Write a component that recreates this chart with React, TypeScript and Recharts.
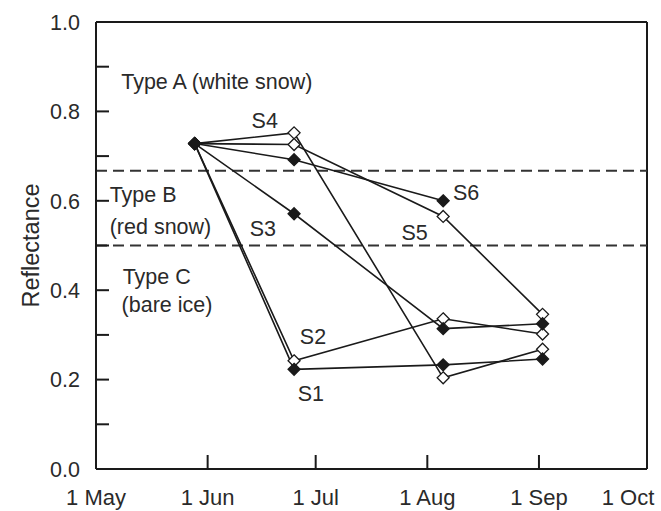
import React from 'react';
import { LineChart, Line, XAxis, YAxis, ReferenceLine, ReferenceDot, Label } from 'recharts';

// days since 1 May
const surveyDays = [27.4, 55, 96.4, 124];
const monthTicks = [0, 31, 61, 92, 123, 153];
const monthLabels = ['1 May', '1 Jun', '1 Jul', '1 Aug', '1 Sep', '1 Oct'];
const yTicks = [0, 0.1, 0.2, 0.3, 0.4, 0.5, 0.6, 0.7, 0.8, 0.9, 1.0];

const s1 = [0.728, 0.223, 0.233, 0.246];
const s2 = [0.728, 0.242, 0.336, 0.302];
const s3 = [0.728, 0.571, 0.314, 0.325];
const s4 = [0.728, 0.752, 0.204, 0.268];
const s5 = [0.728, 0.726, 0.565, 0.346];
const s6 = [0.728, 0.692, 0.6];

const snowTypeBounds = [0.667, 0.5];

const typeLabels = [
  { text: 'Type A (white snow)', day: 7.0, value: 0.867 },
  { text: 'Type B', day: 3.8, value: 0.614 },
  { text: '(red snow)', day: 3.8, value: 0.543 },
  { text: 'Type C', day: 7.4, value: 0.431 },
  { text: '(bare ice)', day: 7.1, value: 0.367 },
];
const siteLabels = [
  { text: 'S1', day: 56.0, value: 0.168 },
  { text: 'S2', day: 56.6, value: 0.296 },
  { text: 'S3', day: 42.7, value: 0.537 },
  { text: 'S4', day: 43.2, value: 0.779 },
  { text: 'S5', day: 84.8, value: 0.529 },
  { text: 'S6', day: 99.1, value: 0.619 },
];

const FONT = '"Liberation Sans", Arial, Helvetica, sans-serif';
const INK = '#1a1a1a';
const TEXT = '#2a2a2a';

const toSeries = (vals: number[]) => vals.map((v, i) => ({ day: surveyDays[i], value: v }));

const makeDot = (filled: boolean) => (props: any) => {
  const { cx, cy, index } = props;
  if (cx == null || cy == null) return <g key={`d${index}`} />;
  const r = 6;
  return (
    <path
      key={`d${index}`}
      d={`M${cx},${cy - r}L${cx + r},${cy}L${cx},${cy + r}L${cx - r},${cy}Z`}
      fill={filled ? INK : '#fff'}
      stroke={INK}
      strokeWidth={1.3}
    />
  );
};

const YTick = (props: any) => {
  const { x, y, payload } = props;
  const v = payload.value as number;
  const major = Math.round(v * 10) % 2 === 0;
  return (
    <g>
      {v > 0 && v < 1 && <line x1={x} x2={x + 13} y1={y} y2={y} stroke={INK} strokeWidth={2} />}
      {major && (
        <text x={x - 16} y={y} dy="0.36em" textAnchor="end" fontSize={21.5} fill={TEXT} fontFamily={FONT}>
          {v.toFixed(1)}
        </text>
      )}
    </g>
  );
};

const XTick = (props: any) => {
  const { x, y, payload, index } = props;
  const i = monthTicks.indexOf(payload.value);
  const last = i === monthTicks.length - 1;
  return (
    <g>
      {i > 0 && !last && <line x1={x} x2={x} y1={y} y2={y - 14} stroke={INK} strokeWidth={2} />}
      <text x={last ? x - 19 : x} y={y + 36} textAnchor="middle" fontSize={22} fill={TEXT} fontFamily={FONT}>
        {monthLabels[i >= 0 ? i : index]}
      </text>
    </g>
  );
};

const textLabel = (text: string) => (props: any) => {
  const vb = props.viewBox || {};
  return (
    <text x={vb.x} y={vb.y} dy="0.35em" textAnchor="start" fontSize={21.5} fill={TEXT} fontFamily={FONT}>
      {text}
    </text>
  );
};

const openSeries = [s2, s4, s5];
const filledSeries = [s1, s3, s6];

export default function App() {
  return (
    <div style={{ position: 'absolute', left: 0, top: 0, background: '#fff' }}>
      <LineChart width={661} height={511} margin={{ top: 22, right: 14, bottom: 0, left: 0 }}>
        <XAxis
          type="number"
          dataKey="day"
          domain={[0, 153]}
          ticks={monthTicks}
          interval={0}
          tickSize={0}
          tickMargin={0}
          height={42}
          axisLine={{ stroke: INK, strokeWidth: 2 }}
          tick={<XTick />}
          allowDuplicatedCategory={false}
        />
        <YAxis
          type="number"
          domain={[0, 1]}
          ticks={yTicks}
          interval={0}
          tickSize={0}
          tickMargin={0}
          width={96}
          axisLine={{ stroke: INK, strokeWidth: 2 }}
          tick={<YTick />}
        >
          <Label value="Reflectance" angle={-90} position="center" dx={-17} fontSize={23.5} fill={TEXT} fontFamily={FONT} />
        </YAxis>
        <ReferenceLine y={1} stroke={INK} strokeWidth={2} />
        <ReferenceLine x={153} stroke={INK} strokeWidth={2} />
        {snowTypeBounds.map((b) => (
          <ReferenceLine key={b} y={b} stroke="#333" strokeWidth={2} strokeDasharray="11 6" />
        ))}
        {openSeries.map((s, i) => (
          <Line
            key={`o${i}`}
            data={toSeries(s)}
            dataKey="value"
            stroke={INK}
            strokeWidth={1.6}
            dot={makeDot(false)}
            activeDot={false}
            isAnimationActive={false}
          />
        ))}
        {filledSeries.map((s, i) => (
          <Line
            key={`f${i}`}
            data={toSeries(s)}
            dataKey="value"
            stroke={INK}
            strokeWidth={1.6}
            dot={makeDot(true)}
            activeDot={false}
            isAnimationActive={false}
          />
        ))}
        {[...typeLabels, ...siteLabels].map((l) => (
          <ReferenceDot key={l.text} x={l.day} y={l.value} r={0} fill="none" stroke="none" ifOverflow="visible">
            <Label content={textLabel(l.text)} />
          </ReferenceDot>
        ))}
      </LineChart>
    </div>
  );
}
